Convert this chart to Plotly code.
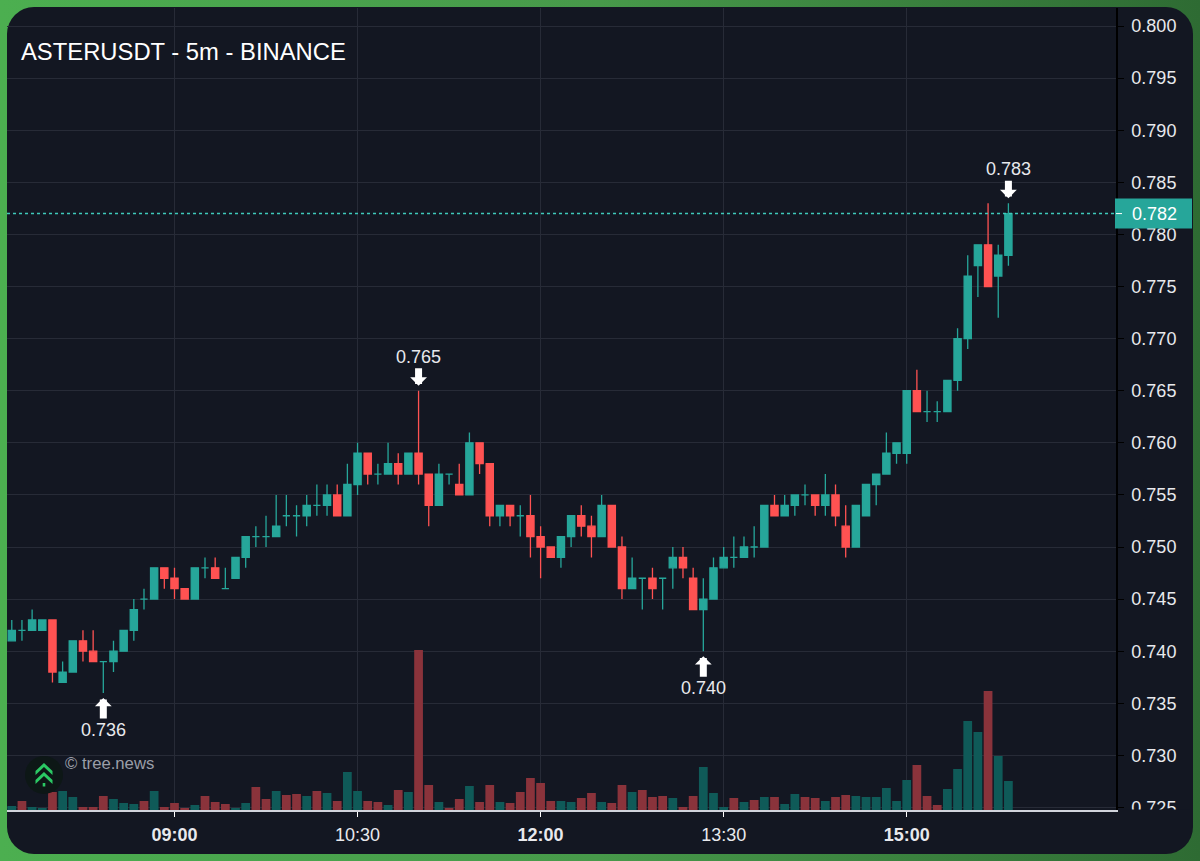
import base64
import pandas as pd
import plotly.graph_objects as go

# 5m candles
open_ = [.741,.742,.742,.742,.743,.737,.738,.741,.740,.739,.739,.740,.742,.745,.745,.748,.747,.746,.745,.748,
         .748,.746,.747,.749,.751,.751,.751,.753,.753,.753,.754,.754,.755,.753,.756,.759,.757,.757,.758,.757,
         .759,.757,.754,.757,.756,.755,.760,.758,.753,.754,.753,.753,.751,.750,.749,.751,.753,.752,.751,.754,
         .750,.746,.747,.747,.747,.748,.749,.747,.744,.745,.748,.749,.749,.750,.750,.754,.753,.754,.755,.755,
         .754,.755,.752,.750,.753,.756,.757,.759,.759,.765,.763,.763,.763,.766,.770,.777,.779,.776,.778]
high = [.743,.743,.744,.743,.743,.739,.741,.742,.742,.739,.741,.742,.745,.746,.748,.748,.748,.746,.748,.749,
        .749,.748,.749,.751,.752,.753,.755,.755,.754,.755,.756,.756,.756,.758,.760,.759,.758,.760,.759,.759,
        .765,.757,.758,.757,.758,.761,.760,.758,.754,.754,.754,.755,.752,.750,.751,.753,.754,.753,.755,.754,
        .751,.749,.747,.748,.747,.750,.750,.748,.747,.749,.750,.751,.751,.752,.754,.755,.755,.755,.756,.755,
        .757,.756,.754,.754,.756,.757,.761,.760,.765,.767,.765,.764,.766,.771,.778,.779,.783,.779,.783]
low = [.741,.741,.742,.742,.737,.737,.738,.739,.739,.736,.738,.740,.741,.744,.745,.746,.745,.745,.745,.747,
       .747,.746,.747,.748,.750,.750,.751,.752,.751,.752,.753,.753,.753,.753,.755,.756,.756,.757,.756,.757,
       .756,.752,.754,.756,.755,.755,.757,.752,.752,.752,.751,.749,.747,.749,.748,.750,.751,.749,.751,.750,
       .745,.746,.744,.745,.744,.746,.747,.744,.740,.745,.748,.748,.749,.749,.750,.753,.753,.753,.754,.753,
       .753,.752,.749,.750,.753,.754,.757,.758,.758,.763,.762,.762,.763,.765,.769,.774,.775,.772,.777]
close = [.742,.742,.743,.743,.738,.738,.741,.740,.739,.739,.740,.742,.744,.745,.748,.747,.746,.745,.748,.748,
         .747,.746,.749,.751,.751,.751,.752,.753,.753,.754,.754,.755,.753,.756,.759,.757,.757,.758,.757,.759,
         .757,.754,.757,.757,.755,.760,.758,.753,.754,.753,.753,.751,.750,.749,.751,.753,.752,.751,.754,.750,
         .746,.747,.747,.746,.747,.749,.748,.744,.745,.748,.749,.749,.750,.750,.754,.753,.754,.755,.755,.754,
         .755,.753,.750,.754,.756,.757,.759,.760,.765,.763,.763,.763,.766,.770,.776,.779,.775,.778,.782]
volume = [4,9,3,2,18,19,13,3,3,14,11,7,6,9,19,3,7,1.5,5,14,
          8,6,2,7,23,11,19,15,16,14,19,17,9,38,19,9,8,5,20,18,
          160,25,8,2,11,24,8,25,8,7,18,32,27,9,9,8,12,17,8,7,
          25,18,20,13,14,12,3,14,43,17,3,12,8,10,13,13,6,16,13,12,
          9,13,15,14,13,13,22,9,30,45,14,5,21,41,89,78,119,54,29]

tick_times = ["09:00", "10:30", "12:00", "13:30", "15:00"]
tick_bold = [True, False, True, False, True]
price_ticks = [.725,.730,.735,.740,.745,.750,.755,.760,.765,.770,.775,.780,.785,.790,.795,.800]
last_price = .782
# candles carrying a high/low callout: (index, is_high)
callouts = [(9, False), (40, True), (68, False), (98, True)]

day = "2025-09-20"
times = pd.date_range(f"{day} 07:40", periods=len(close), freq="5min")

UP = "#26a69a"
DOWN = "#ff5252"
VOL_UP = "#0f5a58"
VOL_DOWN = "#8a333b"
PANEL = "#131722"
GRID = "#272b37"
TEXT = "#e8e9ed"
LOGO = "#2bc964"
FONT = "Liberation Sans"

W, H = 1200, 861
L, R, T, B = 7, 84, 8, 51
plot_w, plot_h = W - L - R, H - T - B

def px_x(x):
    return (x - L) / plot_w

def px_y(y):
    return 1 - (y - T) / plot_h

# green frame with the rounded dark panel, plotly has no gradient for the paper
frame = f"""<svg xmlns="http://www.w3.org/2000/svg" width="{W}" height="{H}">
<defs><linearGradient id="g" x1="0" y1="0" x2="1" y2="0">
<stop offset="0" stop-color="#4caf50"/><stop offset="0.5" stop-color="#47994a"/><stop offset="1" stop-color="#2e6b33"/>
</linearGradient></defs>
<rect width="{W}" height="{H}" fill="url(#g)"/>
<rect x="7" y="7" width="1186" height="847" rx="27" fill="{PANEL}"/></svg>"""
frame_uri = "data:image/svg+xml;base64," + base64.b64encode(frame.encode()).decode()

doji = [o == c for o, c in zip(open_, close)]
body = [not d for d in doji]

def pick(values, mask):
    return [v for v, m in zip(values, mask) if m]

fig = go.Figure()
fig.add_trace(go.Bar(x=times, y=volume, yaxis="y2", showlegend=False,
                     marker=dict(color=[VOL_UP if c > o else VOL_DOWN for o, c in zip(open_, close)], line_width=0)))
fig.add_trace(go.Candlestick(x=list(pick(times, body)), open=pick(open_, body), high=pick(high, body),
                             low=pick(low, body), close=pick(close, body), showlegend=False,
                             increasing=dict(line=dict(color=UP, width=1.3), fillcolor=UP),
                             decreasing=dict(line=dict(color=DOWN, width=1.3), fillcolor=DOWN)))
# open == close candles are always drawn green in the original
fig.add_trace(go.Candlestick(x=list(pick(times, doji)), open=pick(open_, doji), high=pick(high, doji),
                             low=pick(low, doji), close=pick(close, doji), showlegend=False,
                             increasing=dict(line=dict(color=UP, width=1.3), fillcolor=UP),
                             decreasing=dict(line=dict(color=UP, width=1.3), fillcolor=UP)))

annotations = []
for i, is_high in callouts:
    value = high[i] if is_high else low[i]
    annotations.append(dict(x=times[i], y=value, text=f"{value:.3f}", showarrow=True, ax=0, ay=-34 if is_high else 37,
                            arrowhead=1, arrowsize=0.4, arrowwidth=7, arrowcolor="#ffffff", standoff=5,
                            font=dict(size=18, color=TEXT, family=FONT)))
annotations.append(dict(xref="paper", yref="y", x=px_x(1154), y=last_price, xanchor="center", text=f"{last_price:.3f}",
                        showarrow=False, font=dict(size=18, color="#ffffff", family=FONT)))
annotations.append(dict(xref="paper", yref="paper", x=px_x(63), y=px_y(775), xanchor="left", text="© tree.news",
                        showarrow=False, font=dict(size=16.7, color="#9a9ea8", family=FONT)))

# chevrons of the tree.news logo, in page pixels
def chevron(top):
    pts = [(35.5, top + 8), (44, top), (52.5, top + 8), (52.5, top + 12), (44, top + 4), (35.5, top + 12)]
    return "M " + " L ".join(f"{px_x(x):.5f},{px_y(y):.5f}" for x, y in pts) + " Z"

shapes = [
    dict(type="line", xref="paper", yref="y", x0=0, x1=1, y0=last_price, y1=last_price,
         line=dict(color="#3fc9bb", width=1.5, dash="3px,3px")),
    # last price tag
    dict(type="rect", xref="paper", yref="y", ysizemode="pixel", yanchor=last_price, x0=px_x(1115), x1=px_x(1192),
         y0=-15, y1=15, fillcolor=UP, line_width=0),
    dict(type="line", xref="paper", yref="y", x0=1, x1=px_x(1122), y0=last_price, y1=last_price,
         line=dict(color="#ffffff", width=1)),
    # the lowest price label is cut off at the axis line
    dict(type="rect", xref="paper", yref="paper", x0=px_x(1118), x1=px_x(1190), y0=px_y(809.5), y1=px_y(826),
         fillcolor=PANEL, line_width=0),
    dict(type="circle", xref="paper", yref="paper", x0=px_x(25), x1=px_x(63), y0=px_y(794), y1=px_y(756),
         fillcolor="#0d1716", line_width=0),
    dict(type="path", xref="paper", yref="paper", path=chevron(763), fillcolor=LOGO, line_width=0),
    dict(type="path", xref="paper", yref="paper", path=chevron(772), fillcolor=LOGO, line_width=0),
    dict(type="rect", xref="paper", yref="paper", x0=px_x(42.7), x1=px_x(45.3), y0=px_y(786.5), y1=px_y(783),
         fillcolor=LOGO, line_width=0),
]

fig.update_layout(
    width=W, height=H,
    margin=dict(l=L, r=R, t=T, b=B, pad=0),
    paper_bgcolor="#3f8f45", plot_bgcolor="rgba(0,0,0,0)",
    font=dict(family=FONT, size=18, color=TEXT),
    title=dict(text="ASTERUSDT - 5m - BINANCE", x=21 / W, y=1 - 52 / H, xanchor="left", yanchor="middle",
               font=dict(size=23.8, color="#ffffff", family=FONT)),
    showlegend=False, bargap=0.14, boxgap=0.29, boxgroupgap=0,
    images=[dict(source=frame_uri, xref="paper", yref="paper", x=-L / plot_w, y=1 + T / plot_h,
                 sizex=W / plot_w, sizey=H / plot_h, sizing="stretch", xanchor="left", yanchor="top", layer="below")],
    shapes=shapes, annotations=annotations,
    xaxis=dict(type="date", range=[f"{day} 07:37:39", f"{day} 16:42:54"], rangeslider_visible=False,
               tickmode="array", tickvals=[f"{day} {t}" for t in tick_times],
               ticktext=[f"<b>{t}</b>" if b else t for t, b in zip(tick_times, tick_bold)],
               showgrid=True, gridcolor=GRID, gridwidth=1, zeroline=False,
               showline=True, linecolor="#d1d4dc", linewidth=2,
               ticks="outside", ticklen=5, tickcolor="#ffffff", tickwidth=1, ticklabelstandoff=2),
    yaxis=dict(side="right", range=[.72476, .80173], tickmode="array", tickvals=price_ticks, tickformat=".3f",
               showgrid=True, gridcolor=GRID, gridwidth=1, zeroline=False,
               showline=True, linecolor="#000000", linewidth=1.5,
               ticks="outside", ticklen=6, tickcolor="#000000", tickwidth=1, ticklabelstandoff=4),
    yaxis2=dict(overlaying="y", range=[0, plot_h], visible=False),
)

fig.write_html("out.html", config=dict(displayModeBar=False), post_script="document.body.style.margin='0';")
